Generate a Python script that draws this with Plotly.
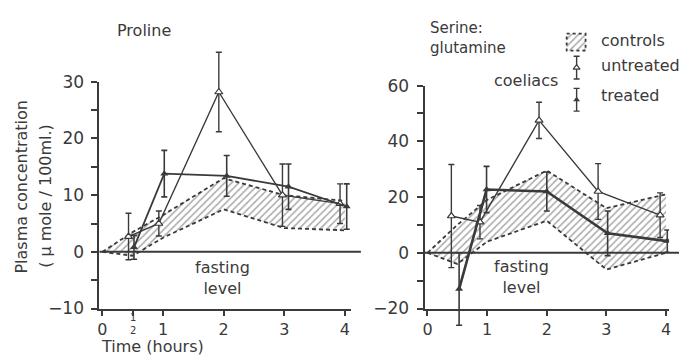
import plotly.graph_objects as go

W, H = 684, 362
INK = '#3a3a3a'
FONT = 'DejaVu Sans'

# ---------------- data ----------------
t_ctrl = [0, 0.5, 1, 2, 3, 4]

# Proline
pro_ctrl_low = [0, -0.7, 2.5, 7.5, 4.2, 3.8]
pro_ctrl_high = [0, 3.5, 6.5, 13.0, 10.0, 9.0]
pro_unt_t = [0.43, 0.93, 1.92, 2.97, 3.92]
pro_unt = [2.7, 5.0, 28.2, 10.0, 8.5]
pro_unt_err = [4.1, 2.2, 7.0, 5.5, 3.5]
pro_trt_t = [0.52, 1.02, 2.05, 3.07, 4.03]
pro_trt = [0.8, 13.8, 13.4, 11.5, 8.0]
pro_trt_err = [2.1, 4.1, 3.6, 4.0, 4.0]

# Serine : glutamine
ser_ctrl_low = [0, -4.0, 4.0, 11.5, -6.0, 0.0]
ser_ctrl_high = [0, 10.0, 19.0, 29.5, 16.0, 21.0]
ser_unt_t = [0.40, 0.88, 1.87, 2.86, 3.90]
ser_unt = [13.2, 11.0, 47.5, 22.0, 13.5]
ser_unt_err = [18.5, 6.0, 6.5, 10.0, 8.0]
ser_trt_t = [0.53, 0.99, 2.0, 3.02, 4.02]
ser_trt = [-13.0, 22.7, 22.0, 7.0, 4.2]
ser_trt_err = [13.0, 8.3, 7.0, 8.0, 4.0]

pro_xticks = [0, 0.5, 1, 2, 3, 4]
pro_xticktext = ['0', '', '1', '2', '3', '4']
ser_xticks = [0, 1, 2, 3, 4]
ser_xticktext = ['0', '1', '2', '3', '4']

# ---------------- layout geometry ----------------
def px(x):
    return x / W


def py(y):
    return 1 - y / H


# visible panels: pixel box and axis ranges
PANELS = {
    'pro': dict(xpix=(98, 351), xr=[-0.05, 4.1], ypix=(316, 76), yr=[-10, 30],
                ext=[-12, 37], dtick=10, minor=5),
    'ser': dict(xpix=(425, 671), xr=[-0.05, 4.05], ypix=(316, 80), yr=[-20, 60],
                ext=[-28, 62], dtick=20, minor=10),
}

fig = go.Figure()
hatch = dict(shape='/', size=5, solidity=0.3, fgcolor='#555', bgcolor='rgba(0,0,0,0)')

axis_common = dict(showline=True, linecolor=INK, linewidth=2, ticks='outside',
                   tickcolor=INK, tickwidth=1.6, showgrid=False, zeroline=False)

layout_axes = {}


def build_panel(key, vis_x, vis_y, dat_x, dat_y, xticks, xtext,
                lo, hi, ut, u, ue, tt, tv, te, trt_w):
    p = PANELS[key]
    x0p, x1p = p['xpix']
    yb, yt = p['ypix']
    r0, r1 = p['yr']
    ppu = (yb - yt) / (r1 - r0)
    e0, e1 = p['ext']
    # visible axes
    layout_axes['xaxis' + vis_x[1:]] = dict(domain=[px(x0p), px(x1p)], range=p['xr'],
                                            anchor=vis_y, tickmode='array',
                                            tickvals=xticks, ticktext=xtext, ticklen=5,
                                            tickfont=dict(size=16, color=INK, family=FONT),
                                            **axis_common)
    layout_axes['yaxis' + vis_y[1:]] = dict(domain=[py(yb), py(yt)], range=p['yr'],
                                            anchor=vis_x, tickmode='linear', tick0=0,
                                            dtick=p['dtick'], ticklen=6,
                                            ticklabelstandoff=4,
                                            tickfont=dict(size=17, color=INK, family=FONT),
                                            minor=dict(ticks='outside', dtick=p['minor'],
                                                       tick0=0, ticklen=6, tickcolor=INK,
                                                       tickwidth=1.6, showgrid=False),
                                            **axis_common)
    # data axes: same scale, taller box so error bars may run past the axes
    layout_axes['xaxis' + dat_x[1:]] = dict(domain=[px(x0p), px(x1p)], range=p['xr'],
                                            anchor=dat_y, visible=False)
    layout_axes['yaxis' + dat_y[1:]] = dict(domain=[py(yb + (r0 - e0) * ppu),
                                                    py(yb - (e1 - r0) * ppu)],
                                            range=[e0, e1], anchor=dat_x, visible=False)

    fig.add_trace(go.Scatter(x=t_ctrl, y=lo, xaxis=vis_x, yaxis=vis_y, mode='lines',
                             line=dict(color=INK, width=1.8, dash='4px,3px'),
                             hoverinfo='skip', showlegend=False))
    fig.add_trace(go.Scatter(x=t_ctrl, y=hi, xaxis=vis_x, yaxis=vis_y, mode='lines',
                             line=dict(color=INK, width=1.8, dash='4px,3px'),
                             fill='tonexty', fillcolor='rgba(0,0,0,0)', fillpattern=hatch,
                             hoverinfo='skip', showlegend=False))
    fig.add_trace(go.Scatter(x=ut, y=u, xaxis=dat_x, yaxis=dat_y, mode='lines+markers',
                             line=dict(color=INK, width=1.4),
                             marker=dict(symbol='triangle-up', size=7, color='white',
                                         line=dict(color=INK, width=1.2)),
                             error_y=dict(type='data', array=ue, visible=True, color=INK,
                                          thickness=1.4, width=3),
                             showlegend=False))
    fig.add_trace(go.Scatter(x=tt, y=tv, xaxis=dat_x, yaxis=dat_y, mode='lines+markers',
                             line=dict(color=INK, width=trt_w),
                             marker=dict(symbol='triangle-up', size=7, color=INK),
                             error_y=dict(type='data', array=te, visible=True, color=INK,
                                          thickness=1.6, width=3),
                             showlegend=False))
    # fasting-level line (y = 0), running a little past the x axis end
    zf = (0 - r0) / (r1 - r0)
    fig.add_shape(type='line', xref=vis_x + ' domain', yref=vis_y + ' domain',
                  x0=0, x1=(x1p - x0p + 10) / (x1p - x0p), y0=zf, y1=zf,
                  line=dict(color=INK, width=2))


build_panel('pro', 'x', 'y', 'x4', 'y4', pro_xticks, pro_xticktext,
            pro_ctrl_low, pro_ctrl_high, pro_unt_t, pro_unt, pro_unt_err,
            pro_trt_t, pro_trt, pro_trt_err, 1.8)
build_panel('ser', 'x2', 'y2', 'x5', 'y5', ser_xticks, ser_xticktext,
            ser_ctrl_low, ser_ctrl_high, ser_unt_t, ser_unt, ser_unt_err,
            ser_trt_t, ser_trt, ser_trt_err, 2.6)

# legend glyphs on a full-page overlay axis (pixel coordinates)
leg_sq_x = [568, 587, 587, 568, 568]
leg_sq_y = [25, 25, 43, 43, 25]
fig.add_trace(go.Scatter(x=leg_sq_x, y=leg_sq_y, xaxis='x3', yaxis='y3', mode='lines',
                         line=dict(color=INK, width=1.8, dash='3px,3px'),
                         fill='toself', fillcolor='rgba(0,0,0,0)', fillpattern=hatch,
                         hoverinfo='skip', showlegend=False))
fig.add_trace(go.Scatter(x=[578], y=[61], xaxis='x3', yaxis='y3', mode='markers',
                         marker=dict(symbol='triangle-up', size=6, color='white',
                                     line=dict(color=INK, width=1.2)),
                         error_y=dict(type='data', array=[12], visible=True, color=INK,
                                      thickness=1.4, width=3),
                         showlegend=False))
fig.add_trace(go.Scatter(x=[578], y=[95], xaxis='x3', yaxis='y3', mode='markers',
                         marker=dict(symbol='triangle-up', size=6, color=INK),
                         error_y=dict(type='data', array=[12], visible=True, color=INK,
                                      thickness=1.4, width=3),
                         showlegend=False))

fig.update_layout(
    width=W, height=H, margin=dict(l=0, r=0, t=0, b=0),
    paper_bgcolor='white', plot_bgcolor='rgba(0,0,0,0)',
    font=dict(family=FONT, size=16, color=INK),
    showlegend=False,
    xaxis3=dict(domain=[0, 1], range=[0, W], anchor='y3', visible=False),
    yaxis3=dict(domain=[0, 1], range=[H, 0], anchor='x3', visible=False),
    **layout_axes,
)


def note(text, x, y, size=16, xanchor='center', angle=0, align='center'):
    fig.add_annotation(text=text, x=px(x), y=py(y), xref='paper', yref='paper',
                       xanchor=xanchor, yanchor='middle', showarrow=False,
                       textangle=angle, borderpad=0, align=align,
                       font=dict(size=size, color=INK, family=FONT))


note('Proline', 143, 22)
note('Serine:<br>glutamine', 430, 30, size=15, xanchor='left', align='left')
note('controls', 602, 32, xanchor='left')
note('untreated', 602, 59, xanchor='left')
note('treated', 602, 91, xanchor='left')
note('coeliacs', 527, 75)
note('fasting<br>level', 222, 284)
note('fasting<br>level', 523, 283)
note('Time (hours)', 151, 356.5)
note('1<br>2', 132, 332, size=10)
note('Plasma concentration', 20, 187, angle=-90)
note('( μ mole / 100ml.)', 43, 197, angle=-90)

fig.write_html('out.html')
